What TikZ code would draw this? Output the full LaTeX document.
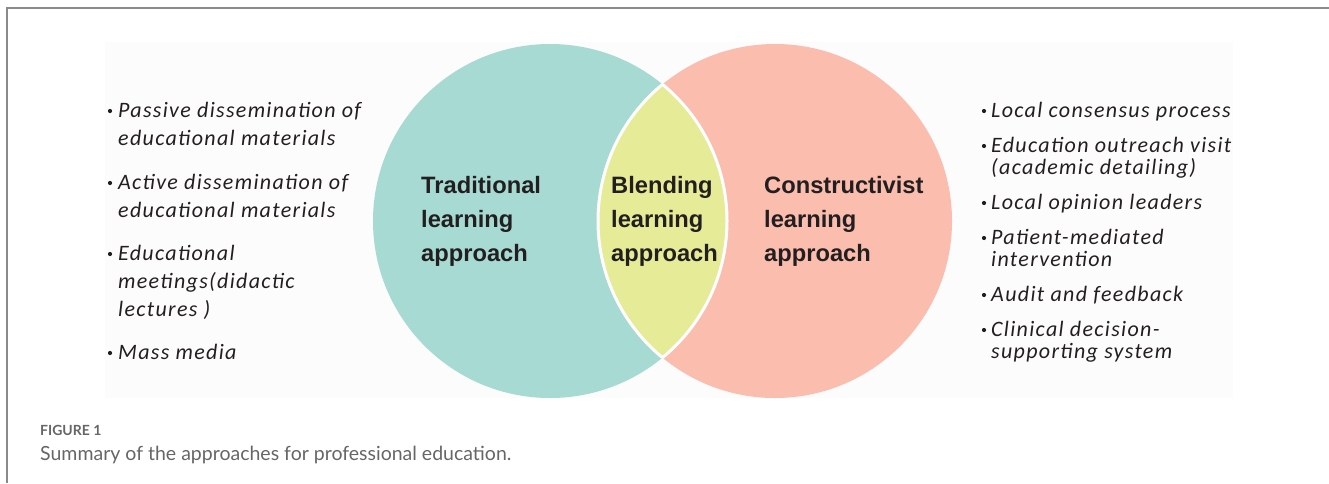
\documentclass[tikz,border=0pt]{standalone}
\usepackage{fontspec}
\setmainfont{Liberation Sans}
\newfontfamily\itemfont[LetterSpace=6]{Carlito}
\newfontfamily\capfont{Lato}
\definecolor{ink}{HTML}{231F20}
\definecolor{tradfill}{HTML}{A6DAD3}
\definecolor{consfill}{HTML}{FABDAE}
\definecolor{blendfill}{HTML}{E6EB98}
\definecolor{panel}{HTML}{FCFCFC}
\definecolor{framegray}{HTML}{8A8A8A}
\definecolor{capgray}{HTML}{666666}
\begin{document}
\begin{tikzpicture}
  [x=1pt,y=-1pt,every node/.style={inner sep=0pt,text=ink},
   set/.style={circle,minimum size=354pt},
   label/.style={anchor=base west,font=\bfseries\fontsize{23.7}{34}\selectfont},
   item/.style={anchor=base west,font=\itemfont\itshape\fontsize{22}{28}\selectfont},
   dot/.style={circle,fill=ink,minimum size=4.2pt},
   caption/.style={anchor=base west,text=capgray}]
  \useasboundingbox (0,0) rectangle (1329,483);
  \draw [framegray,line width=2pt] (7,483) |- (1329,7.5);
  \fill [panel] (105,42) rectangle (1233,398);

  \node[set,fill=tradfill] (trad) at (550,221) {};
  \node[set,fill=consfill] (cons) at (775,221) {};
  \begin{scope}
    \clip (trad.center) circle[radius=177pt];
    \fill [blendfill] (cons.center) circle[radius=177pt];
    \draw [white,line width=3pt] (cons.center) circle[radius=177pt];
  \end{scope}
  \begin{scope}
    \clip (cons.center) circle[radius=177pt];
    \draw [white,line width=3pt] (trad.center) circle[radius=177pt];
  \end{scope}

  \foreach \x/\a/\b in {421/Traditional/t,611/Blending/b,764/Constructivist/c} {
    \node[label] (\b1) at (\x,193) {\a};
    \node[label] (\b2) at (\x,227) {learning};
    \node[label] (\b3) at (\x,261) {approach};
  }

  \foreach \y/\t [count=\i] in {117/Passive dissemination of,145/educational materials,
      189/Active dissemination of,217/educational materials,260/Educational,
      288/meetings(didactic,316/lectures ),359/Mass media}
    \node[item] (l\i) at (118,\y) {\t};
  \foreach \y/\t [count=\i] in {117/Local consensus process,152/Education outreach visit,
      174/(academic detailing),209/Local opinion leaders,244/Patient-mediated,
      266/intervention,301/Audit and feedback,336/Clinical decision-,358/supporting system}
    \node[item] (r\i) at (991,\y) {\t};
  \foreach \y in {117,189,260,359}
    \node[dot] (ld\y) at (110,\y-6) {};
  \foreach \y in {117,152,209,244,301,336}
    \node[dot] (rd\y) at (984,\y-6) {};

  \node[caption,font=\capfont\bfseries\fontsize{14}{16}\selectfont] (fig) at (40,435) {FIGURE 1};
  \node[caption,font=\capfont\fontsize{19.5}{22}\selectfont] (sum) at (40,460)
    {Summary of the approaches for professional education.};
\end{tikzpicture}
\end{document}
